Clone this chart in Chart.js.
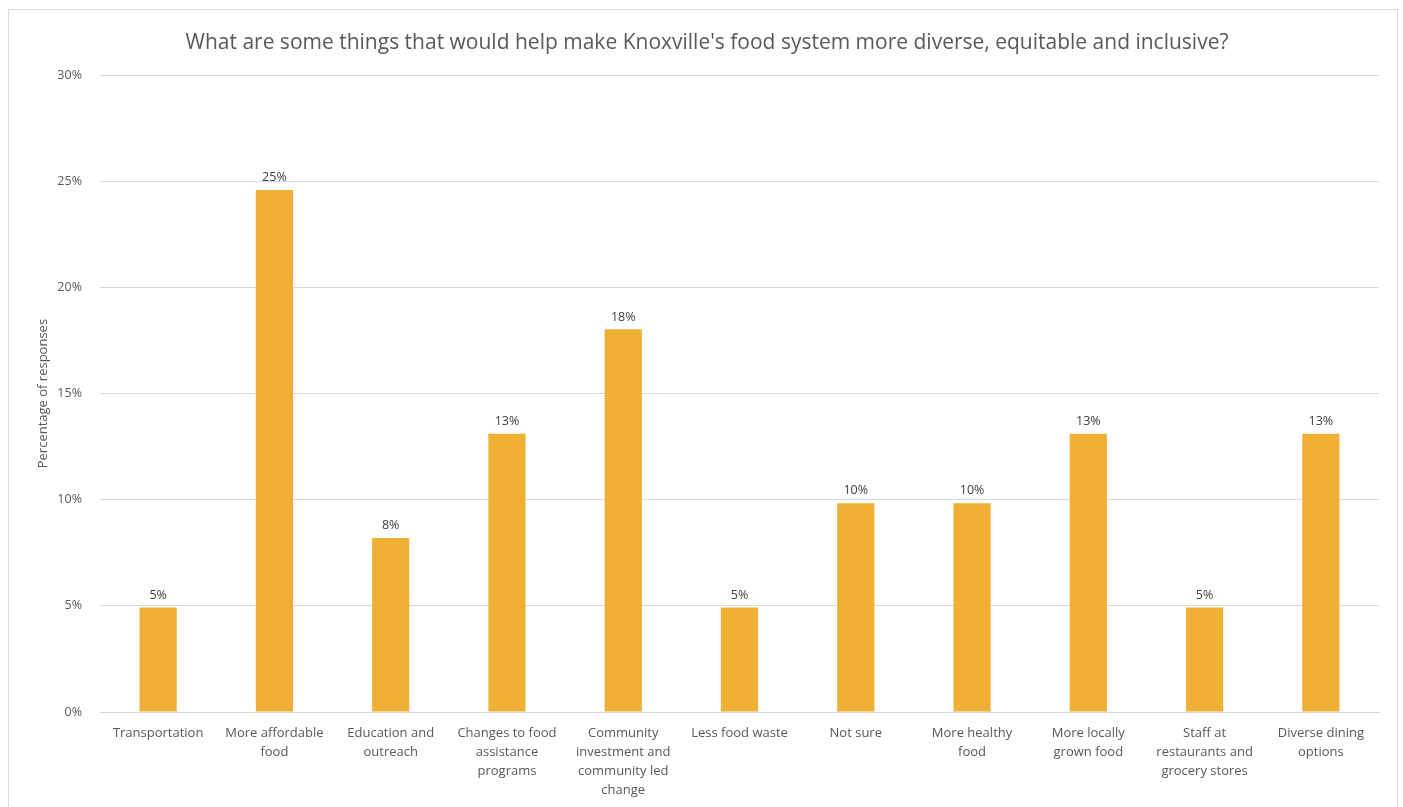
<!DOCTYPE html>
<html>
<head>
<meta charset="utf-8">
<script src="https://cdn.jsdelivr.net/npm/chart.js@4"></script>
<style>
  html, body { margin: 0; padding: 0; background: #ffffff; }
  #frame {
    position: absolute; left: 8px; top: 9px;
    width: 1390px; height: 800px;
    border: 1px solid #d9d9d9; box-sizing: border-box;
  }
</style>
</head>
<body>
<div id="frame"><canvas id="myChart"></canvas></div>
<script>
// survey answers
var categories = [
  "Transportation",
  ["More affordable", "food"],
  ["Education and", "outreach"],
  ["Changes to food", "assistance", "programs"],
  ["Community", "investment and", "community led", "change"],
  "Less food waste",
  "Not sure",
  ["More healthy", "food"],
  ["More locally", "grown food"],
  ["Staff at", "restaurants and", "grocery stores"],
  ["Diverse dining", "options"]
];
// share of responses, in percent
var shares = [4.92, 24.59, 8.20, 13.11, 18.03, 4.92, 9.84, 9.84, 13.11, 4.92, 13.11];
var yTicks = [0, 5, 10, 15, 20, 25, 30];

var textColor = "#595959";
var fontFamily = "'Open Sans', 'Liberation Sans', sans-serif";

// writes the rounded value above each bar
var barLabels = {
  id: "barLabels",
  afterDatasetsDraw: function (chart) {
    var ctx = chart.ctx;
    var meta = chart.getDatasetMeta(0);
    ctx.save();
    ctx.font = "12.5px " + fontFamily;
    ctx.fillStyle = "#404040";
    ctx.textAlign = "center";
    ctx.textBaseline = "bottom";
    meta.data.forEach(function (bar, i) {
      var v = chart.data.datasets[0].data[i];
      ctx.fillText(Math.round(v) + "%", bar.x, bar.y - 6);
    });
    ctx.restore();
  }
};

var ctx = document.getElementById("myChart").getContext("2d");
var myChart = new Chart(ctx, {
  type: "bar",
  data: {
    labels: categories,
    datasets: [
      {
        data: shares,
        backgroundColor: "#F0B035",
        barPercentage: 0.32,
        categoryPercentage: 1
      }
    ]
  },
  plugins: [barLabels],
  options: {
    responsive: true,
    maintainAspectRatio: false,
    animation: false,
    layout: { padding: { left: 26, right: 18, top: 0, bottom: 0 } },
    plugins: {
      legend: { display: false },
      tooltip: { enabled: false },
      title: {
        display: true,
        text: "What are some things that would help make Knoxville's food system more diverse, equitable and inclusive?",
        color: textColor,
        font: { family: fontFamily, size: 21, weight: "normal" },
        padding: { top: 20, bottom: 20 }
      }
    },
    scales: {
      y: {
        min: 0,
        max: 30,
        afterBuildTicks: function (scale) {
          scale.ticks = yTicks.map(function (v) { return { value: v }; });
        },
        afterFit: function (scale) { scale.width = 65; },
        grid: { color: "#d9d9d9", lineWidth: 1, drawTicks: false },
        border: { display: false },
        ticks: {
          color: textColor,
          padding: 18,
          font: { family: fontFamily, size: 12.5 },
          callback: function (v) { return v + "%"; }
        },
        title: {
          display: true,
          text: "Percentage of responses",
          color: textColor,
          font: { family: fontFamily, size: 13 },
          padding: { top: 0, bottom: 0 }
        }
      },
      x: {
        afterFit: function (scale) { scale.height = 96; },
        grid: { display: false, drawTicks: false },
        border: { display: true, color: "#d9d9d9", width: 1 },
        ticks: {
          color: textColor,
          padding: 12,
          maxRotation: 0,
          autoSkip: false,
          font: { family: fontFamily, size: 13, lineHeight: 1.45 }
        }
      }
    }
  }
});
</script>
</body>
</html>
